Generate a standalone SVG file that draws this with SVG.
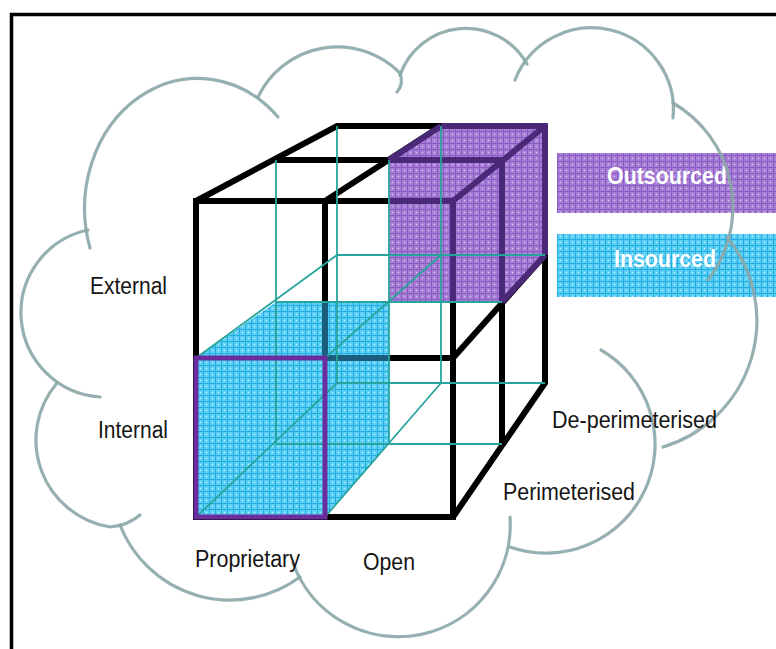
<svg xmlns="http://www.w3.org/2000/svg" width="776" height="649" viewBox="0 0 776 649">
<defs>
<style>
.blk{stroke:#000;stroke-width:6;fill:none;stroke-linejoin:miter}
.tl{stroke:#27a59c;stroke-width:1.8;fill:none}
.cl{stroke:#8ba7a9;stroke-width:3.2;fill:none;stroke-linecap:round;stroke-opacity:0.9}
.lbl{font-family:"Liberation Sans",Arial,sans-serif;font-size:23px;fill:#151515}
.leg{font-family:"Liberation Sans",Arial,sans-serif;font-size:23px;font-weight:bold;fill:#ffffff;text-anchor:middle}
.tp{stroke:#4a2a78;stroke-width:6;fill:none}
.tb{stroke:#1b5d7c;stroke-width:6;fill:none}
</style>
<pattern id="gp" width="6" height="6" patternUnits="userSpaceOnUse">
<rect width="6" height="6" fill="#a880d6"/>
<path d="M0,5.5H6M5.5,0V6" stroke="#8a5cc3" stroke-width="1"/>
<rect x="2" y="2" width="1" height="1" fill="#e4d6f4"/>
</pattern>
<pattern id="gb" width="6" height="6" patternUnits="userSpaceOnUse">
<rect width="6" height="6" fill="#5fd0f5"/>
<path d="M0,5.5H6M5.5,0V6" stroke="#22ade0" stroke-width="1"/>
<rect x="2" y="2" width="1" height="1" fill="#d6f4ff"/>
</pattern>
</defs>
<rect width="776" height="649" fill="#ffffff"/>
<rect id="frame" x="11.5" y="14.5" width="800" height="700" fill="none" stroke="#000" stroke-width="3.5"/>

<g id="legend-outsourced">
<rect x="557" y="153" width="219" height="60" fill="url(#gp)"/>
<text class="leg" x="667" y="184" textLength="120" lengthAdjust="spacingAndGlyphs">Outsourced</text>
</g>
<g id="legend-insourced">
<rect x="557" y="234" width="219" height="63" fill="url(#gb)"/>
<text class="leg" x="665" y="267" textLength="102" lengthAdjust="spacingAndGlyphs">Insourced</text>
</g>

<g id="cloud" class="cl">
<path d="M90,248 A113,130 0 0 1 278,117"/>
<path d="M258,97 A88,88 0 0 1 400,73 Q404,84 397,92"/>
<path d="M400,75 A70,70 0 0 1 527,64"/>
<path d="M515,80 A82,82 0 0 1 673,118"/>
<path d="M673,103 A120,120 0 0 1 708,280"/>
<path d="M727,237 A132,132 0 0 1 663,447"/>
<path d="M601,350 A109,109 0 0 1 510,547"/>
<path d="M510,517 A112,112 0 0 1 293,563"/>
<path d="M120,525 A118,118 0 0 0 300,577"/>
<path d="M57,383 A88,88 0 0 0 110,527 Q127,526 140,515"/>
<path d="M88,230 A84.5,84.5 0 0 0 100,397"/>
</g>

<g id="cube">
<g id="cube-edges" class="blk">
<rect x="196" y="201" width="257" height="316"/>
<path d="M196,201 L337,126 H545 V383 L453,517"/>
<path d="M325,201 V517 M196,358 H453"/>
<path d="M325,201 L441,126 M453,201 L545,126"/>
<path d="M276,160 H502 M502,160 V444"/>
<path d="M453,358 L545,255"/>
</g>
<g id="outsourced-cell">
<polygon points="389,160 441,126 545,126 545,255 502,302 389,302" fill="url(#gp)"/>
<path class="tp" d="M389,201 H453 M453,201 V302 M453,201 L545,126 M389,160 H502 M502,160 V302 M441,126 H545 V255 M389,160 L441,126 M502,302 L545,255"/>
</g>
<g id="insourced-cell">
<polygon points="196,358 276,302 389,302 389,444 325,517 196,517" fill="url(#gb)"/>
<path class="tb" d="M325,302 V358 M325,358 H389"/>
</g>
<g id="hidden-edges" class="tl">
<path d="M337,126 V383 M441,126 V383 M337,255 H545 M337,383 H545"/>
<path d="M276,160 V444 M389,160 V444 M276,302 H502 M276,444 H502"/>
<path d="M196,358 L337,255 M325,358 L441,255 M196,517 L337,383 M325,517 L441,383"/>
</g>
<rect id="insourced-front" x="196" y="358" width="129" height="159" fill="none" stroke="#6a2d9e" stroke-width="5"/>
</g>

<g id="labels">
<text class="lbl" x="90" y="294" textLength="77" lengthAdjust="spacingAndGlyphs">External</text>
<text class="lbl" x="98" y="438" textLength="70" lengthAdjust="spacingAndGlyphs">Internal</text>
<text class="lbl" x="195" y="567" textLength="105" lengthAdjust="spacingAndGlyphs">Proprietary</text>
<text class="lbl" x="363" y="570" textLength="52" lengthAdjust="spacingAndGlyphs">Open</text>
<text class="lbl" x="503" y="500" textLength="132" lengthAdjust="spacingAndGlyphs">Perimeterised</text>
<text class="lbl" x="552" y="428" textLength="165" lengthAdjust="spacingAndGlyphs">De-perimeterised</text>
</g>
</svg>
